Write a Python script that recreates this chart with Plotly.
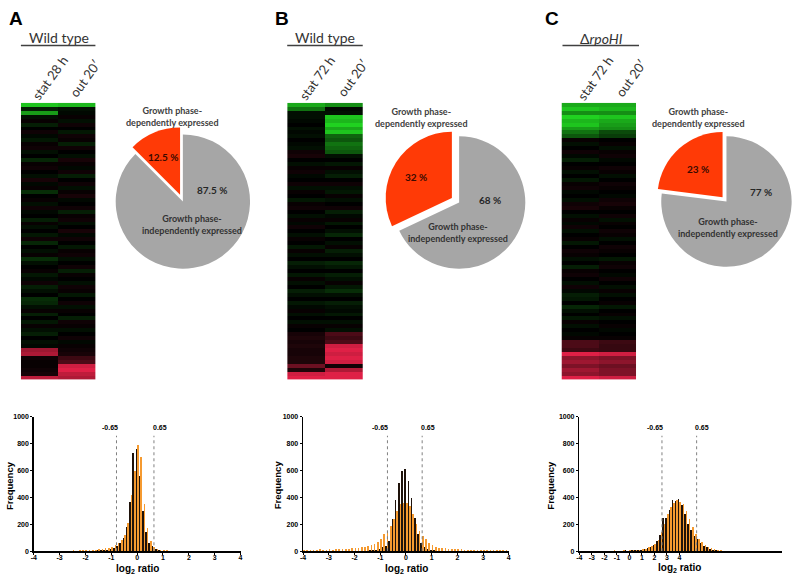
import plotly.graph_objects as go

W, H = 800, 577
def px(x): return x / W
def py(y): return 1 - y / H

# ---------------- heatmap data (rows top -> bottom) ----------------
hmA_stat = ([-0.9, -0.2, -0.75] +
    [-0.1, 0.05, -0.2, 0.0, 0.1, -0.05, -0.15, 0.05, 0.1, -0.1,
     0.0, -0.25, 0.05, 0.1, 0.0, -0.1, 0.15, -0.05, 0.05, -0.3,
     0.0, 0.05, -0.1, 0.1, -0.05, 0.0, -0.2, 0.05, -0.1, 0.0,
     -0.15, 0.1, -0.25, 0.0, -0.1, 0.05, -0.3, -0.1, 0.0, 0.05,
     -0.15, -0.05, 0.1, -0.2, -0.1, 0.0, -0.3, -0.25, -0.1, 0.05,
     -0.2, 0.0, -0.15, 0.05, -0.1, -0.2, 0.0, -0.1, -0.05, 0.7] +
    [0.75, 0.1, 0.05, 0.05, 0.1, 0.15, 0.8])
hmA_out = ([-0.85, -0.1, -0.05] +
    [0.05, -0.1, 0.1, 0.0, -0.15, 0.1, 0.05, -0.2, 0.1, 0.0,
     -0.1, 0.15, 0.05, -0.05, 0.1, -0.2, 0.0, 0.1, -0.1, 0.05,
     0.15, -0.05, 0.0, 0.1, -0.2, 0.05, 0.1, -0.1, 0.0, 0.15,
     -0.05, 0.1, 0.0, -0.15, 0.05, 0.1, -0.1, 0.0, 0.1, -0.2,
     0.05, 0.0, -0.1, 0.1, 0.05, -0.15, 0.0, 0.1, -0.1, 0.05,
     0.0, -0.2, 0.1, 0.05, -0.1, 0.0, 0.1, -0.05, 0.05, 0.1] +
    [0.15, 0.4, 0.45, 0.85, 0.9, 0.8, 0.75])

hmB_stat = ([-0.8, -0.6, -0.1] +
    [-0.1, -0.05, 0.0, -0.1, -0.05, -0.1, 0.0, -0.05, -0.1, 0.1,
     0.15, 0.0, -0.1, 0.05, 0.1, -0.05, 0.0, 0.1, -0.1, 0.05,
     0.0, -0.15, 0.05, 0.1, 0.0, -0.1, 0.05, -0.05, 0.1, 0.0,
     -0.1, 0.05, 0.0, -0.15, 0.05, -0.1, 0.0, -0.2, -0.1, 0.0,
     -0.15, 0.05, -0.1, 0.0, -0.2, -0.1, 0.0, -0.15, -0.05, 0.05,
     -0.1, 0.0, -0.1, 0.05, 0.0, 0.15, 0.2, 0.15, 0.2, 0.15] +
    [0.15, 0.2, 0.2, 0.55, 0.2, 0.85, 0.9])
hmB_out = ([-0.7, -0.05, -0.1] +
    [-0.9, -0.85, -0.95, -0.8, -0.9, -0.55, -0.5, -0.6, -0.55, -0.5,
     -0.1, 0.0, -0.15, 0.05, -0.1, -0.2, 0.0, 0.1, -0.1, -0.15,
     0.05, -0.1, 0.0, 0.1, -0.2, -0.05, 0.05, -0.15, 0.0, -0.1,
     -0.25, 0.0, -0.1, 0.05, -0.2, -0.1, 0.0, -0.25, -0.15, 0.0,
     -0.2, -0.1, 0.05, -0.15, -0.3, -0.1, 0.0, -0.2, -0.1, -0.05,
     -0.15, 0.0, -0.1, 0.05, -0.1, 0.45, 0.4, 0.45, 0.85, 0.9] +
    [0.85, 0.9, 0.85, 0.1, 0.75, 0.9, 0.9])

hmC_stat = ([-0.8, -0.9, -0.7] +
    [-0.95, -0.85, -0.9, -0.75, -0.6, -0.5, 0.05, -0.1, 0.0, 0.1,
     -0.05, -0.2, 0.0, 0.05, -0.1, 0.0, -0.15, 0.05, 0.1, -0.05,
     0.0, -0.1, 0.1, 0.15, 0.0, -0.1, 0.05, -0.05, 0.1, -0.1,
     0.0, 0.05, -0.15, 0.0, 0.1, 0.05, -0.1, 0.0, -0.2, 0.05,
     0.1, 0.0, -0.1, 0.1, -0.05, -0.2, -0.15, 0.0, -0.25, -0.1,
     0.0, -0.15, 0.05, -0.1, 0.0, -0.05, 0.05, 0.45, 0.45, 0.4] +
    [0.9, 0.65, 0.7, 0.6, 0.7, 0.65, 0.9])
hmC_out = ([-0.8, -0.85, -0.7] +
    [-0.9, -0.8, -0.75, -0.7, -0.45, -0.4, 0.0, 0.05, -0.1, 0.05,
     0.1, -0.05, 0.0, 0.1, 0.05, -0.1, 0.0, 0.1, 0.05, 0.0,
     -0.05, 0.1, 0.15, 0.05, 0.0, 0.1, -0.1, 0.05, 0.0, 0.1,
     0.05, -0.1, 0.0, 0.1, 0.05, 0.0, -0.15, 0.05, 0.1, 0.0,
     -0.05, 0.1, 0.0, -0.1, 0.05, -0.1, 0.0, 0.05, -0.15, 0.0,
     0.05, -0.1, 0.0, 0.05, -0.05, 0.0, 0.05, 0.4, 0.35, 0.35] +
    [0.85, 0.6, 0.65, 0.55, 0.6, 0.6, 0.85])

columnsA = ["stat 28 h", "out 20′"]
columnsB = ["stat 72 h", "out 20′"]
columnsC = ["stat 72 h", "out 20′"]

# ---------------- pie data ----------------
pie_labels = ["Growth phase-dependently expressed", "Growth phase-independently expressed"]
pieA = [12.5, 87.5]
pieB = [32, 68]
pieC = [23, 77]

# ---------------- histogram data ----------------
binsAB = [-4 + 0.125 * i for i in range(65)]
histA_black = [2, 0, 1, 0, 2, 1, 0, 1,
               1, 2, 0, 1, 2, 1, 3, 2,
               3, 2, 4, 5, 6, 8, 10, 12,
               15, 25, 40, 60, 100, 180, 370, 730,
               760, 560, 300, 140, 60, 40, 15, 8,
               5, 4, 3, 2, 2, 1, 1, 1,
               1, 0, 1, 0, 1, 0, 0, 1,
               0, 1, 0, 0, 1, 0, 0, 1,
               0]
histA_orange = [3, 2, 3, 2, 4, 3, 2, 3,
                4, 3, 5, 4, 6, 5, 7, 6,
                8, 10, 9, 12, 15, 18, 22, 28,
                35, 45, 60, 85, 120, 210, 420, 600,
                790, 700, 350, 170, 80, 30, 20, 10,
                8, 6, 5, 4, 3, 3, 2, 2,
                2, 1, 2, 1, 1, 1, 1, 1,
                1, 1, 0, 1, 1, 0, 1, 0,
                0]
histB_black = [2, 1, 0, 2, 1, 0, 1, 2,
               1, 0, 2, 1, 3, 2, 1, 2,
               3, 2, 4, 3, 5, 6, 8, 12,
               18, 30, 40, 80, 240, 380, 510, 600,
               610, 520, 400, 250, 130, 60, 30, 15,
               10, 6, 4, 3, 2, 2, 1, 1,
               1, 0, 1, 1, 0, 1, 0, 0,
               1, 0, 0, 1, 0, 0, 1, 0,
               0]
histB_orange = [10, 8, 12, 9, 11, 14, 10, 12,
                15, 12, 16, 14, 18, 17, 20, 22,
                25, 28, 30, 32, 40, 45, 55, 70,
                90, 130, 150, 190, 240, 300, 350, 360,
                360, 340, 280, 200, 150, 110, 90, 60,
                45, 35, 28, 25, 22, 18, 20, 16,
                15, 14, 12, 13, 11, 12, 10, 11,
                9, 10, 8, 9, 10, 7, 8, 9,
                6]
binsC = [-4 + 0.25 * i for i in range(49)]
histC_black = [5, 3, 4, 2, 3, 4, 2, 3, 4, 3, 5, 3, 4, 5, 3, 6,
               5, 8, 6, 10, 12, 18, 25, 35, 50, 75, 120, 250,
               250, 310, 380, 375, 390, 345, 280, 200, 160, 110, 90, 60,
               40, 30, 20, 12, 8, 5, 3, 2, 1]
histC_orange = [3, 4, 2, 5, 4, 3, 5, 4, 3, 5, 4, 6, 5, 4, 6, 5,
                7, 6, 9, 12, 15, 20, 30, 40, 55, 85, 140, 200,
                280, 330, 360, 380, 370, 350, 300, 240, 180, 130, 95, 70,
                50, 35, 25, 18, 12, 8, 5, 3, 2]
xticks_hist = [-4, -3, -2, -1, 0, 1, 2, 3, 4]
yticks_hist = [0, 200, 400, 600, 800, 1000]
thresholds = ["-0.65", "0.65"]

# ---------------- figure ----------------
CAL = "Lato, 'Open Sans', sans-serif"
ARI = "'Liberation Sans', Arial, sans-serif"
heat_scale = [[0, "#22e022"], [0.3, "#093c09"], [0.5, "#000000"],
              [0.7, "#3c0912"], [1, "#ff2550"]]
RED = "#ff3a06"
GRAY = "#a6a6a6"
BLACK_BAR = "#1e120a"
ORANGE_BAR = "#f59a30"

fig = go.Figure()
layout = dict(width=W, height=H, margin=dict(l=0, r=0, t=0, b=0),
              paper_bgcolor="white", plot_bgcolor="rgba(0,0,0,0)",
              showlegend=False, barmode="group", bargap=0, bargroupgap=0)

panels = [
    dict(stat=hmA_stat, out=hmA_out, cols=columnsA, hx=(18, 93),
         pie=pieA, pc=(181, 200), pr=68, pull=0.11,
         hist=(histA_black, histA_orange, binsAB), hxr=(31, 239), xr=[-4, 4], lines=(-0.8, 0.65)),
    dict(stat=hmB_stat, out=hmB_out, cols=columnsB, hx=(286, 362),
         pie=pieB, pc=(459, 201), pr=67, pull=0.13,
         hist=(histB_black, histB_orange, binsAB), hxr=(302, 509), xr=[-4, 4], lines=(-0.72, 0.63)),
    dict(stat=hmC_stat, out=hmC_out, cols=columnsC, hx=(562, 637),
         pie=pieC, pc=(728, 200), pr=66, pull=0.09,
         hist=(histC_black, histC_orange, binsC), hxr=(580, 784), xr=[-4, 12.2], lines=(2.6, 5.37)),
]

shapes = []
for i, p in enumerate(panels):
    hi = i + 1
    hs = "" if hi == 1 else str(hi)
    z = [list(r) for r in zip(p["stat"], p["out"])]
    n = len(z)
    fig.add_trace(go.Heatmap(z=z, x=[0, 1], y=list(range(n)), colorscale=heat_scale,
                             zmin=-1, zmax=1, showscale=False,
                             xaxis="x" + hs, yaxis="y" + hs, hoverinfo="skip"))
    layout["xaxis" + hs] = dict(domain=[px(p["hx"][0]), px(p["hx"][1])], range=[-0.5, 1.5],
                               visible=False, anchor="y" + hs)
    layout["yaxis" + hs] = dict(domain=[py(380), py(100)], range=[n - 0.5, -0.5],
                               visible=False, anchor="x" + hs)
    # pie: dependent slice sits just left of 12 o'clock
    cx, cy = p["pc"]
    half = p["pr"] * (1 + p["pull"])
    fig.add_trace(go.Pie(values=p["pie"], labels=pie_labels, sort=False,
                         direction="clockwise", rotation=-p["pie"][0] * 3.6,
                         pull=[p["pull"], 0], textinfo="none", hoverinfo="skip",
                         marker=dict(colors=[RED, GRAY], line=dict(width=0)),
                         domain=dict(x=[px(cx - half), min(1, px(cx + half))],
                                     y=[py(cy + half), py(cy - half)])))
    # histogram
    k = i + 4
    ks = str(k)
    hb, ho, bins = p["hist"]
    fig.add_trace(go.Bar(x=bins, y=hb, marker=dict(color=BLACK_BAR, line=dict(width=0)),
                         xaxis="x" + ks, yaxis="y" + ks, offsetgroup="b", hoverinfo="skip"))
    fig.add_trace(go.Bar(x=bins, y=ho, marker=dict(color=ORANGE_BAR, line=dict(width=0)),
                         xaxis="x" + ks, yaxis="y" + ks, offsetgroup="o", hoverinfo="skip"))
    tf = dict(family=ARI, size=7, color="black", weight="bold")
    layout["xaxis" + ks] = dict(domain=[px(p["hxr"][0]), px(p["hxr"][1])], range=p["xr"],
                               anchor="y" + ks, showline=True, linecolor="black", linewidth=1.5,
                               ticks="outside", ticklen=2, tickwidth=1, tickcolor="black",
                               ticklabelstandoff=-3,
                               tickvals=xticks_hist, ticktext=[str(v) for v in xticks_hist],
                               tickfont=tf, showgrid=False, zeroline=False)
    layout["yaxis" + ks] = dict(domain=[py(554), py(418)], range=[0, 1000],
                               anchor="x" + ks, showline=True, linecolor="black", linewidth=1.5,
                               ticks="outside", ticklen=2, tickwidth=1, tickcolor="black",
                               tickvals=yticks_hist, tickfont=tf, showgrid=False, zeroline=False)
    for lv in p["lines"]:
        shapes.append(dict(type="line", xref="x" + ks, yref="y" + ks, x0=lv, x1=lv,
                           y0=0, y1=860, line=dict(color="#808080", width=1, dash="dot")))

layout["shapes"] = shapes + [
    dict(type="line", xref="paper", yref="paper", x0=px(18), x1=px(93), y0=py(42), y1=py(42),
         line=dict(color="#404040", width=1.5)),
    dict(type="line", xref="paper", yref="paper", x0=px(286), x1=px(362), y0=py(42), y1=py(42),
         line=dict(color="#404040", width=1.5)),
    dict(type="line", xref="paper", yref="paper", x0=px(563), x1=px(640), y0=py(42), y1=py(42),
         line=dict(color="#404040", width=1.5)),
]

ann = []
def A(x, y, text, size, family=CAL, bold=False, color="#222222", angle=0, italic=False, xanchor="center"):
    ann.append(dict(x=px(x), y=py(y), xref="paper", yref="paper", text=text, showarrow=False,
                    textangle=angle, xanchor=xanchor, yanchor="middle",
                    font=dict(family=family, size=size, color=color,
                              weight="bold" if bold else "normal",
                              style="italic" if italic else "normal")))

# panel letters
A(13, 15, "A", 19, family=ARI, bold=True, color="black")
A(281, 15, "B", 19, family=ARI, bold=True, color="black")
A(552, 15, "C", 19, family=ARI, bold=True, color="black")
# strain titles
A(56, 34, "Wild type", 14, color="#333333")
A(324, 34, "Wild type", 14, color="#333333")
A(602, 35, "Δ<i>rpoHI</i>", 14, color="#333333")
# column labels
colpos = [((47, 75), (83, 75)), ((316, 75), (352, 75)), ((596, 75), (632, 75))]
for p, cp in zip(panels, colpos):
    A(cp[0][0], cp[0][1], p["cols"][0], 13, color="#333333", angle=-54)
    A(cp[1][0], cp[1][1], p["cols"][1], 13, color="#333333", angle=-54)

# pie labels
pie_txt = [
    dict(dep=(171, 114), pin=(161, 155), pin_t="12.5 %", pout=(210, 188), pout_t="87.5 %", ind=(190, 223)),
    dict(dep=(421, 115), pin=(416, 175), pin_t="32 %", pout=(490, 198), pout_t="68 %", ind=(458, 231)),
    dict(dep=(700, 115), pin=(699, 167), pin_t="23 %", pout=(763, 190), pout_t="77 %", ind=(730, 226)),
]
for t in pie_txt:
    A(t["dep"][0], t["dep"][1], "Growth phase-<br>dependently expressed", 9, bold=True, color="#404040")
    A(t["ind"][0], t["ind"][1], "Growth phase-<br>independently expressed", 9, bold=True, color="#333333")
    A(t["pin"][0], t["pin"][1], t["pin_t"], 10, bold=True, color="#3a0a00")
    A(t["pout"][0], t["pout"][1], t["pout_t"], 10, bold=True, color="#262626")

# histogram labels
hist_lab = [
    dict(freq=(6, 487), xl=(135, 572), t1=(108, 429), t2=(158, 429)),
    dict(freq=(276, 487), xl=(406, 572), t1=(379, 429), t2=(428, 429)),
    dict(freq=(551, 487), xl=(681, 571), t1=(656, 429), t2=(703, 429)),
]
for h in hist_lab:
    A(h["freq"][0], h["freq"][1], "Frequency", 9.5, family=ARI, bold=True, color="black", angle=-90)
    A(h["xl"][0], h["xl"][1], "log<sub>2</sub> ratio", 10, family=ARI, bold=True, color="black")
    A(h["t1"][0], h["t1"][1], thresholds[0], 7, family=ARI, bold=True, color="black")
    A(h["t2"][0], h["t2"][1], thresholds[1], 7, family=ARI, bold=True, color="black")

layout["annotations"] = ann
fig.update_layout(**layout)
fig.write_html("out.html", config={"displayModeBar": False, "staticPlot": True},
               post_script="document.body.style.margin='0';document.body.style.overflow='hidden';")
